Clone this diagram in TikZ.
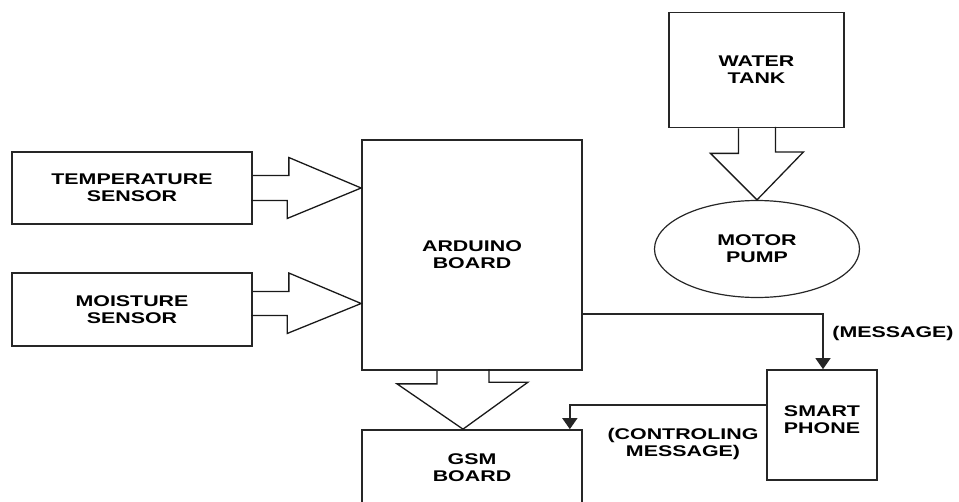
\documentclass[tikz,border=0pt]{standalone}
\usepackage{fontspec}
\setmainfont{Liberation Sans}[FakeStretch=1.38]
\usepackage{tikz}
\usetikzlibrary{arrows.meta,positioning,calc,shapes.geometric}

\begin{document}
\begin{tikzpicture}[
  x=1pt, y=-1pt,
  unit/.style={draw=black!85, line width=1.7pt, align=center,
               font=\fontsize{15.5}{17}\selectfont\bfseries, inner sep=0pt},
  pump/.style={ellipse, draw=black!85, line width=1.2pt, align=center,
               minimum width=205, minimum height=97, inner sep=0pt,
               font=\fontsize{15.5}{17}\selectfont\bfseries},
  label/.style={align=center, font=\fontsize{15.5}{17}\selectfont\bfseries},
  link/.style={draw=black!85, line width=1.4pt,
               -{Triangle[length=11pt,width=15pt]}},
  bigarrow/.style={draw=black!90, line width=1.3pt, line join=miter},
]

\useasboundingbox (0,0) rectangle (959,501);
\clip (0,0) rectangle (959,501);

% Blocks
\node[unit, minimum width=240, minimum height=72]  (temp)    at (132,188)   {TEMPERATURE\\SENSOR};
\node[unit, minimum width=240, minimum height=73]  (moist)   at (132,309.5) {MOISTURE\\SENSOR};
\node[unit, minimum width=220, minimum height=230] (arduino) at (472,255)   {ARDUINO\\BOARD};
\node[unit, minimum width=175, minimum height=115] (tank)    at (756.5,70)  {WATER\\TANK};
\node[pump]                                        (motor)   at (757,249)   {MOTOR\\PUMP};
\node[unit, minimum width=220, minimum height=76]  (gsm)     at (472,468)   {GSM\\BOARD};
\node[unit, minimum width=110, minimum height=110] (phone)   at (822,425)   {SMART\\PHONE\\[-7pt]\mbox{}};

% Block arrows
\draw[bigarrow] ($(temp.east)+(0,-12.5)$) -- ++(36,0) -- ++(0,-18)
  -- (temp.east -| arduino.west) -- ++(-74,30.5) -- ++(0,-18) -- ++(-36,0);
\draw[bigarrow] ($(moist.east)+(0,-18)$) -- ++(36,0) -- ++(0,-18.5)
  -- ($(moist.east -| arduino.west)+(0,-6)$) -- ++(-74,30) -- ++(0,-18) -- ++(-36,0);
\draw[bigarrow] ($(arduino.south)+(-35,0)$) -- ++(0,13) -- ++(-40,0)
  -- ($(gsm.north)+(-9,0)$) -- ++(65,-47) -- ++(-39,0) -- ++(0,-13);
\draw[bigarrow] ($(tank.south)+(-18,0)$) -- ++(0,25) -- ++(-28,0)
  -- (motor.north) -- ++(46.5,-48) -- ++(-28,0) -- ++(0,-25);

% Messages
\draw[link] ($(arduino.south east)+(0,-57)$) -| ($(phone.north)+(1,0)$);
\node[label] (msg) at (893,333) {(MESSAGE)};
\draw[link] ($(phone.west)+(0,-20)$) -| ($(gsm.north east)+(-13,0)$);
\node[label] (ctrl) at (683,444) {(CONTROLING\\MESSAGE)};

\end{tikzpicture}
\end{document}
